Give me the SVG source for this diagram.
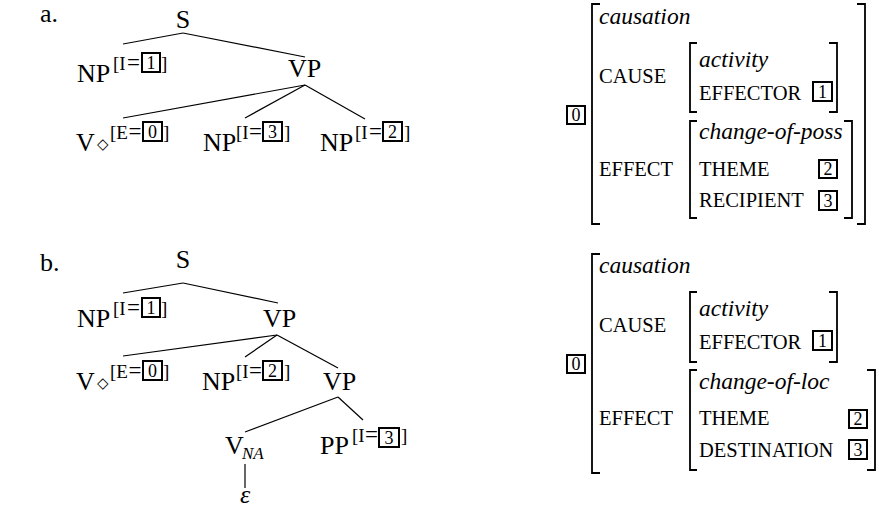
<svg xmlns="http://www.w3.org/2000/svg" width="879" height="510" viewBox="0 0 879 510">
  <style>
    text { font-family: "Liberation Serif", "Times New Roman", serif; fill: #000; }
    .lbl { font-size: 26px; }
    .sup { font-size: 19px; }
    .eq { font-size: 23px; }
    .sub { font-size: 17px; font-style: italic; }
    .num { font-size: 18px; text-anchor: middle; }
    .it { font-size: 23.5px; font-style: italic; }
    .sc { font-size: 20.5px; }
    .box { fill: none; stroke: #000; stroke-width: 2; }
    .edge { stroke: #000; stroke-width: 1.2; fill: none; }
    .brk { stroke: #000; stroke-width: 1.8; fill: none; }
    .dia { font-family: "DejaVu Sans", sans-serif; font-size: 15px; }
  </style>

  <!-- ===== (a) ditransitive tree ===== -->
  <text class="lbl" x="40" y="22">a.</text>

  <g id="edges-a">
    <line class="edge" x1="183" y1="33" x2="123" y2="44"/>
    <line class="edge" x1="183" y1="33" x2="305" y2="57"/>
    <line class="edge" x1="305" y1="85" x2="123" y2="118"/>
    <line class="edge" x1="305" y1="85" x2="245" y2="118"/>
    <line class="edge" x1="305" y1="85" x2="365" y2="119"/>
  </g>

  <g id="a-S"><text class="lbl" x="183" y="28" text-anchor="middle">S</text></g>

  <g id="a-NP1">
    <text class="lbl" x="77" y="82">NP</text>
    <text class="sup" x="113" y="70">[I</text>
    <text class="eq" x="127" y="70">=</text>
    <rect class="box" x="142" y="53" width="18" height="19"/>
    <text class="num" x="151" y="69">1</text>
    <text class="sup" x="161" y="70">]</text>
  </g>

  <g id="a-VP"><text class="lbl" x="288" y="77">VP</text></g>

  <g id="a-V">
    <text class="lbl" x="76" y="151">V</text>
    <text class="dia" x="97" y="149">◇</text>
    <text class="sup" x="110" y="139">[E</text>
    <text class="eq" x="128.5" y="139">=</text>
    <rect class="box" x="143" y="122" width="19" height="19"/>
    <text class="num" x="152.5" y="138">0</text>
    <text class="sup" x="163" y="139">]</text>
  </g>

  <g id="a-NP3">
    <text class="lbl" x="203" y="151">NP</text>
    <text class="sup" x="236" y="139">[I</text>
    <text class="eq" x="249" y="139">=</text>
    <rect class="box" x="263" y="122" width="19" height="19"/>
    <text class="num" x="272.5" y="138">3</text>
    <text class="sup" x="284" y="139">]</text>
  </g>

  <g id="a-NP2">
    <text class="lbl" x="320" y="151">NP</text>
    <text class="sup" x="355" y="139">[I</text>
    <text class="eq" x="369" y="139">=</text>
    <rect class="box" x="383" y="122" width="19" height="19"/>
    <text class="num" x="392.5" y="138">2</text>
    <text class="sup" x="404" y="139">]</text>
  </g>

  <!-- ===== (a) feature structure ===== -->
  <g id="a-avm">
    <rect class="box" x="567" y="106" width="18" height="18"/>
    <text class="num" x="576" y="121">0</text>
    <path class="brk" d="M600,4 H592 V224 H600"/>
    <path class="brk" d="M857,4 H865 V224 H857"/>
    <text class="it" x="599" y="24">causation</text>
    <text class="sc" x="599" y="83">CAUSE</text>
    <path class="brk" d="M697,43 H690 V112 H697"/>
    <path class="brk" d="M829,43 H837 V112 H829"/>
    <text class="it" x="699" y="67">activity</text>
    <text class="sc" x="699" y="100">EFFECTOR</text>
    <rect class="box" x="813" y="82" width="19" height="19"/>
    <text class="num" x="822.5" y="98">1</text>
    <text class="sc" x="599" y="176">EFFECT</text>
    <path class="brk" d="M697,121 H690 V218 H697"/>
    <path class="brk" d="M844,121 H852 V218 H844"/>
    <text class="it" x="699" y="139">change-of-poss</text>
    <text class="sc" x="699" y="176">THEME</text>
    <rect class="box" x="819" y="160" width="18" height="18"/>
    <text class="num" x="828" y="175">2</text>
    <text class="sc" x="699" y="207">RECIPIENT</text>
    <rect class="box" x="819" y="191" width="18" height="19"/>
    <text class="num" x="828" y="207">3</text>
  </g>

  <!-- ===== (b) caused-motion tree ===== -->
  <text class="lbl" x="40" y="271">b.</text>

  <g id="edges-b">
    <line class="edge" x1="183" y1="283" x2="123" y2="293"/>
    <line class="edge" x1="183" y1="283" x2="278" y2="303"/>
    <line class="edge" x1="277" y1="335" x2="123" y2="356"/>
    <line class="edge" x1="277" y1="335" x2="245" y2="357"/>
    <line class="edge" x1="277" y1="335" x2="338" y2="368"/>
    <line class="edge" x1="338" y1="397" x2="245" y2="432"/>
    <line class="edge" x1="338" y1="397" x2="363" y2="420"/>
    <line class="edge" x1="245" y1="464" x2="245" y2="488"/>
  </g>

  <g id="b-S"><text class="lbl" x="183" y="268" text-anchor="middle">S</text></g>

  <g id="b-NP1">
    <text class="lbl" x="77" y="327">NP</text>
    <text class="sup" x="113" y="315">[I</text>
    <text class="eq" x="127" y="315">=</text>
    <rect class="box" x="142" y="298" width="18" height="19"/>
    <text class="num" x="151" y="314">1</text>
    <text class="sup" x="161" y="315">]</text>
  </g>

  <g id="b-VP1"><text class="lbl" x="263" y="327">VP</text></g>

  <g id="b-V">
    <text class="lbl" x="76" y="390">V</text>
    <text class="dia" x="97" y="388">◇</text>
    <text class="sup" x="110" y="378">[E</text>
    <text class="eq" x="128.5" y="378">=</text>
    <rect class="box" x="143" y="361" width="19" height="19"/>
    <text class="num" x="152.5" y="377">0</text>
    <text class="sup" x="163" y="378">]</text>
  </g>

  <g id="b-NP2">
    <text class="lbl" x="202" y="390">NP</text>
    <text class="sup" x="236" y="378">[I</text>
    <text class="eq" x="249" y="378">=</text>
    <rect class="box" x="263" y="361" width="19" height="19"/>
    <text class="num" x="272.5" y="377">2</text>
    <text class="sup" x="284" y="378">]</text>
  </g>

  <g id="b-VP2"><text class="lbl" x="323" y="390">VP</text></g>

  <g id="b-VNA">
    <text class="lbl" x="225" y="454">V</text>
    <text class="sub" x="242" y="459">NA</text>
  </g>

  <g id="b-PP">
    <text class="lbl" x="320" y="454">PP</text>
    <text class="sup" x="352" y="442">[I</text>
    <text class="eq" x="365" y="442">=</text>
    <rect class="box" x="379" y="428" width="20" height="19"/>
    <text class="num" x="389" y="444">3</text>
    <text class="sup" x="401" y="442">]</text>
  </g>

  <g id="b-eps"><text class="lbl" x="245" y="503" text-anchor="middle" font-style="italic">ε</text></g>

  <!-- ===== (b) feature structure ===== -->
  <g id="b-avm">
    <rect class="box" x="567" y="355" width="18" height="18"/>
    <text class="num" x="576" y="370">0</text>
    <path class="brk" d="M600,254 H592 V473 H600"/>
    <text class="it" x="599" y="273">causation</text>
    <text class="sc" x="599" y="332">CAUSE</text>
    <path class="brk" d="M697,292 H690 V362 H697"/>
    <path class="brk" d="M829,292 H837 V362 H829"/>
    <text class="it" x="699" y="316">activity</text>
    <text class="sc" x="699" y="349">EFFECTOR</text>
    <rect class="box" x="813" y="331" width="19" height="19"/>
    <text class="num" x="822.5" y="347">1</text>
    <text class="sc" x="599" y="425">EFFECT</text>
    <path class="brk" d="M697,370 H690 V470 H697"/>
    <path class="brk" d="M867,370 H875 V470 H867"/>
    <text class="it" x="699" y="389">change-of-loc</text>
    <text class="sc" x="699" y="425">THEME</text>
    <rect class="box" x="849" y="410" width="18" height="18"/>
    <text class="num" x="858" y="425">2</text>
    <text class="sc" x="699" y="457">DESTINATION</text>
    <rect class="box" x="849" y="440" width="18" height="19"/>
    <text class="num" x="858" y="456">3</text>
  </g>
</svg>
